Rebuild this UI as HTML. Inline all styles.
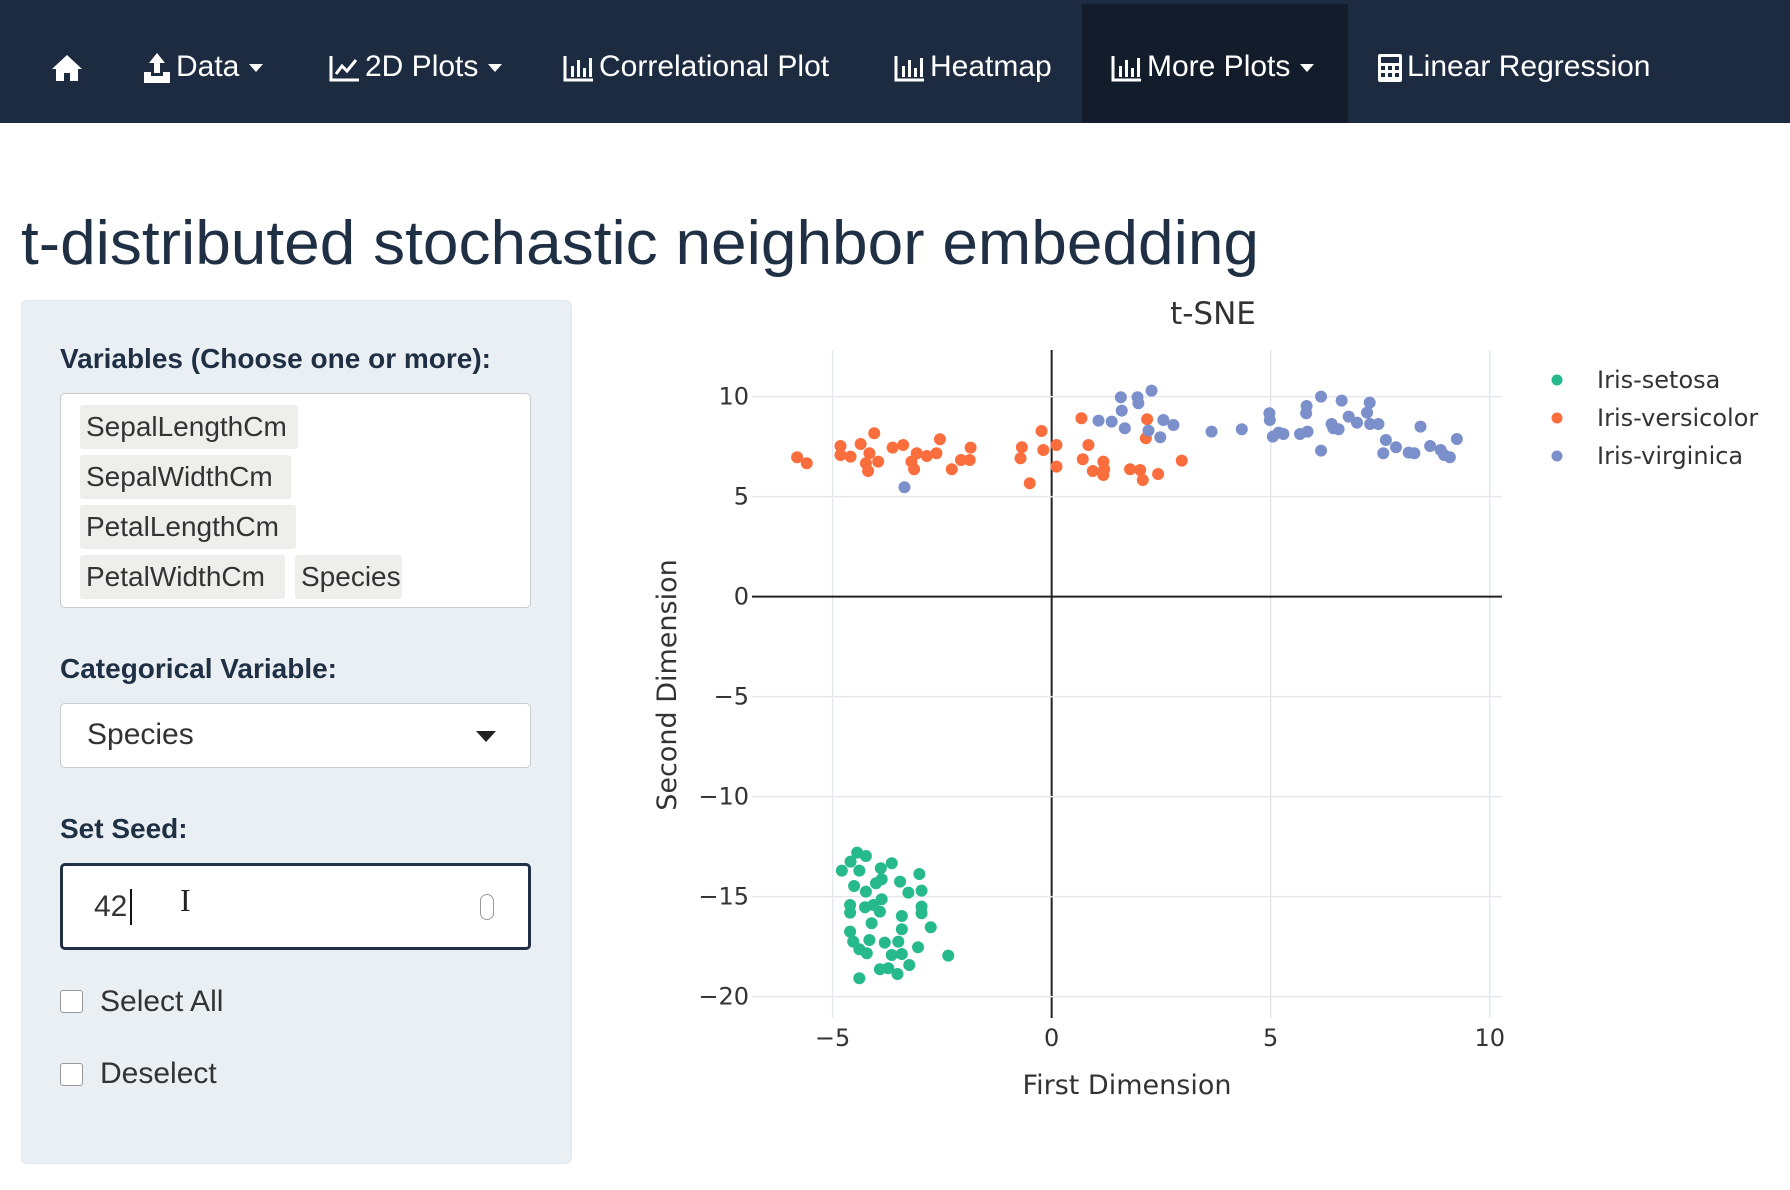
<!DOCTYPE html>
<html><head><meta charset="utf-8">
<style>
*{box-sizing:border-box;margin:0;padding:0}
body{width:1790px;height:1190px;background:#fff;font-family:"Liberation Sans",sans-serif;position:relative;overflow:hidden;color:#2c3e50}
.nav{position:absolute;left:0;top:0;width:1790px;height:123px;background:#1d2b41}
.nav-item{position:absolute;top:0;height:123px;color:#fff;font-size:30px;line-height:133px;white-space:nowrap}
.nav-item svg{vertical-align:middle;margin-right:4px}
.caret{display:inline-block;width:0;height:0;border-left:7px solid transparent;border-right:7px solid transparent;border-top:8px solid #fff;vertical-align:middle;margin-left:10px}
.active{background:#121c2b;top:4px;height:119px;line-height:125px}
h1{position:absolute;left:21px;top:208px;font-size:62px;font-weight:normal;color:#1f3045;white-space:nowrap;transform-origin:left top}
.panel{position:absolute;left:21px;top:300px;width:551px;height:864px;background:#eaeff3;border-radius:6px;border:1px solid #e3e7eb}
.lbl{position:absolute;left:60px;font-size:28px;font-weight:bold;color:#1f3045}
.box{position:absolute;left:60px;width:471px;background:#fff;border:1px solid #c8ccd2;border-radius:5px}
.chip{position:absolute;height:44px;background:#eeeeec;border-radius:3px;font-size:28px;line-height:44px;padding-left:6px;color:#333;white-space:nowrap}
.cb{position:absolute;left:60px;width:23px;height:23px;border:1.5px solid #999;border-radius:3px;background:#fff}
.cbl{position:absolute;left:100px;font-size:30px;color:#333}
</style></head><body>
<div class="nav">
  <div class="nav-item" style="left:50px"><svg width="34" height="30" viewBox="0 0 34 30"><path d="M17 2 L2 16 L6 16 L6 28 L14 28 L14 20 L20 20 L20 28 L28 28 L28 16 L32 16 Z" fill="#fff"/></svg></div>
  <div class="nav-item" style="left:142px"><svg width="30" height="32" viewBox="0 0 30 32"><path d="M15 1 L7 11 L12 11 L12 21 L18 21 L18 11 L23 11 Z M2 20 L9 20 L9 24 L21 24 L21 20 L28 20 L28 31 L2 31 Z" fill="#fff"/></svg>Data<span class="caret"></span></div>
  <div class="nav-item" style="left:329px"><svg width="32" height="28" viewBox="0 0 32 28"><path d="M2 2 V26 H30" stroke="#fff" stroke-width="3" fill="none"/><path d="M7 20 L13 12 L18 17 L27 6" stroke="#fff" stroke-width="3" fill="none"/></svg>2D Plots<span class="caret"></span></div>
  <div class="nav-item" style="left:563px"><svg width="32" height="28" viewBox="0 0 32 28"><path d="M2 2 V26 H30" stroke="#fff" stroke-width="3" fill="none"/><rect x="8" y="12" width="3" height="11" fill="#fff"/><rect x="14" y="6" width="3" height="17" fill="#fff"/><rect x="20" y="14" width="3" height="9" fill="#fff"/><rect x="26" y="4" width="3" height="19" fill="#fff"/></svg>Correlational Plot</div>
  <div class="nav-item" style="left:894px"><svg width="32" height="28" viewBox="0 0 32 28"><path d="M2 2 V26 H30" stroke="#fff" stroke-width="3" fill="none"/><rect x="8" y="12" width="3" height="11" fill="#fff"/><rect x="14" y="6" width="3" height="17" fill="#fff"/><rect x="20" y="14" width="3" height="9" fill="#fff"/><rect x="26" y="4" width="3" height="19" fill="#fff"/></svg>Heatmap</div>
  <div class="nav-item active" style="left:1082px;width:266px;padding-left:29px"><svg width="32" height="28" viewBox="0 0 32 28"><path d="M2 2 V26 H30" stroke="#fff" stroke-width="3" fill="none"/><rect x="8" y="12" width="3" height="11" fill="#fff"/><rect x="14" y="6" width="3" height="17" fill="#fff"/><rect x="20" y="14" width="3" height="9" fill="#fff"/><rect x="26" y="4" width="3" height="19" fill="#fff"/></svg>More Plots<span class="caret"></span></div>
  <div class="nav-item" style="left:1377px"><svg width="26" height="30" viewBox="0 0 26 30"><rect x="1" y="1" width="24" height="28" rx="2" fill="#fff"/><rect x="4" y="4" width="18" height="6" fill="#1d2b41"/><g fill="#1d2b41"><rect x="4" y="13" width="4" height="4"/><rect x="11" y="13" width="4" height="4"/><rect x="18" y="13" width="4" height="4"/><rect x="4" y="20" width="4" height="4"/><rect x="11" y="20" width="4" height="4"/><rect x="18" y="20" width="4" height="4"/></g></svg>Linear Regression</div>
</div>

<h1 id="title">t-distributed stochastic neighbor embedding</h1>

<div class="panel"></div>
<div class="lbl" style="top:343px">Variables (Choose one or more):</div>
<div class="box" style="top:393px;height:215px"></div>
<div class="chip" style="left:80px;top:405px;width:218px">SepalLengthCm</div>
<div class="chip" style="left:80px;top:455px;width:211px">SepalWidthCm</div>
<div class="chip" style="left:80px;top:505px;width:216px">PetalLengthCm</div>
<div class="chip" style="left:80px;top:555px;width:205px">PetalWidthCm</div>
<div class="chip" style="left:295px;top:555px;width:107px">Species</div>

<div class="lbl" style="top:653px">Categorical Variable:</div>
<div class="box" style="top:703px;height:65px">
  <span style="position:absolute;left:26px;top:14px;font-size:30px;color:#333">Species</span>
  <span style="position:absolute;left:415px;top:27px;border-left:10px solid transparent;border-right:10px solid transparent;border-top:11px solid #222"></span>
</div>

<div class="lbl" style="top:813px">Set Seed:</div>
<div class="box" style="top:863px;height:87px;border:3px solid #1f3045">
  <span style="position:absolute;left:31px;top:24px;font-size:30px;color:#333">42</span>
  <span style="position:absolute;left:67px;top:23px;width:2px;height:36px;background:#111"></span>
  <span style="position:absolute;left:117px;top:16px;font-size:32px;color:#222;font-family:'Liberation Serif',serif">I</span>
  <span style="position:absolute;left:417px;top:28px;width:14px;height:26px;border:1.5px solid #999;border-radius:7px"></span>
</div>

<div class="cb" style="top:990px"></div>
<div class="cbl" style="top:985px">Select All</div>
<div class="cb" style="top:1063px"></div>
<div class="cbl" style="top:1057px">Deselect</div>

<svg id="chart" width="1790" height="1190" style="position:absolute;left:0;top:0"></svg>

<script>
const setosaX=[-4.79,-4.59,-4.44,-4.24,-4.39,-4.51,-4.24,-3.90,-3.65,-4.01,-3.88,-3.46,-3.27,-3.02,-2.97,-4.60,-4.60,-4.26,-4.07,-3.88,-3.92,-4.11,-3.42,-2.97,-2.97,-3.42,-2.76,-4.60,-4.53,-4.16,-4.39,-4.22,-3.81,-3.50,-3.65,-3.42,-3.05,-2.36,-3.92,-3.73,-3.52,-3.25,-4.39];
const setosaY=[-13.70,-13.25,-12.80,-12.97,-13.70,-14.47,-14.75,-13.58,-13.33,-14.33,-14.13,-14.25,-14.80,-13.87,-14.70,-15.42,-15.80,-15.53,-15.42,-15.13,-15.75,-16.33,-15.97,-15.50,-15.83,-16.63,-16.53,-16.75,-17.25,-17.17,-17.63,-17.83,-17.30,-17.25,-17.92,-17.87,-17.53,-17.95,-18.63,-18.58,-18.87,-18.42,-19.08];
const versicolorX=[-5.81,-5.59,-4.82,-4.82,-4.59,-4.36,-4.16,-4.24,-4.19,-3.96,-4.05,-3.63,-3.39,-3.20,-3.14,-3.08,-2.85,-2.63,-2.55,-2.28,-2.07,-1.87,-1.85,-0.68,-0.71,-0.50,-0.23,-0.19,0.11,0.11,0.68,0.84,0.71,0.94,1.18,1.20,1.18,1.79,2.02,2.08,2.43,2.97,2.15,2.18];
const versicolorY=[6.97,6.67,7.53,7.08,7.00,7.63,7.17,6.67,6.28,6.75,8.17,7.45,7.58,6.75,6.37,7.17,7.03,7.17,7.87,6.37,6.83,6.83,7.45,7.47,6.92,5.67,8.28,7.33,7.58,6.50,8.92,7.58,6.87,6.28,6.75,6.37,6.08,6.37,6.33,5.83,6.13,6.80,7.92,8.87];
const virginicaX=[-3.36,1.58,1.96,1.98,2.28,1.60,1.07,1.37,1.67,2.21,2.55,2.78,2.48,3.65,4.34,4.97,4.98,5.05,5.18,5.29,5.67,5.84,5.82,5.81,6.15,6.15,6.39,6.43,6.55,6.62,6.78,6.97,7.26,7.20,7.27,7.46,7.63,7.86,7.57,8.15,8.28,8.42,8.64,8.88,8.96,9.09,9.25];
const virginicaY=[5.47,9.97,9.97,9.67,10.30,9.30,8.80,8.75,8.42,8.30,8.83,8.58,7.97,8.25,8.37,9.17,8.83,8.00,8.20,8.13,8.13,8.25,9.53,9.17,10.00,7.30,8.63,8.42,8.37,9.80,9.00,8.70,9.70,9.20,8.63,8.63,7.83,7.47,7.17,7.20,7.17,8.50,7.53,7.33,7.08,6.97,7.88];
const seriesNames=["Iris-setosa","Iris-versicolor","Iris-virginica"];
const xTicks=[-5,0,5,10];
const yTicks=[10,5,0,-5,-10,-15,-20];
const xTickLabels=["−5","0","5","10"];
const yTickLabels=["10","5","0","−5","−10","−15","−20"];

const NS="http://www.w3.org/2000/svg";
const svg=document.getElementById('chart');
const L=752,R=1502,T=350,B=1018;
const xMin=-6.84,xMax=10.28,yMin=-21.07,yMax=12.33;
const sx=v=>L+(v-xMin)/(xMax-xMin)*(R-L);
const sy=v=>B-(v-yMin)/(yMax-yMin)*(B-T);
function mk(tag,attrs,text){const e=document.createElementNS(NS,tag);for(const k in attrs)e.setAttribute(k,attrs[k]);if(text!==undefined)e.textContent=text;svg.appendChild(e);return e;}

xTicks.forEach((v,i)=>{
  const g=mk('line',{x1:sx(v),x2:sx(v),y1:T,y2:B,stroke:v===0?'#222':'#e6e8ef','stroke-width':v===0?2:1.5});
  
  
  const t=mk('text',{x:sx(v),y:1046,'text-anchor':'middle','font-size':24,fill:'#333','font-family':'DejaVu Sans, sans-serif'},xTickLabels[i]);
  
  
});
yTicks.forEach((v,i)=>{
  const g=mk('line',{x1:L,x2:R,y1:sy(v),y2:sy(v),stroke:v===0?'#222':'#e6e8ef','stroke-width':v===0?2:1.5});
  
  
  const t=mk('text',{x:749,y:sy(v)+8,'text-anchor':'end','font-size':24,fill:'#333','font-family':'DejaVu Sans, sans-serif'},yTickLabels[i]);
  
  
});
const colors=['#26b98b','#fa6e3e','#7b8fcb'];
const allX=[setosaX,versicolorX,virginicaX],allY=[setosaY,versicolorY,virginicaY];
allX.forEach((xs,s)=>{
  xs.forEach((xv,i)=>{
    const c=mk('circle',{cx:sx(xv),cy:sy(allY[s][i]),r:6,fill:colors[s]});
    
    
  });
});
const tt=mk('text',{x:1213,y:324,'text-anchor':'middle','font-size':31,fill:'#333','font-family':'DejaVu Sans, sans-serif'},'t-SNE');


const xt=mk('text',{x:1127,y:1094,'text-anchor':'middle','font-size':27,fill:'#333','font-family':'DejaVu Sans, sans-serif'},'First Dimension');


const yt=mk('text',{x:0,y:0,'text-anchor':'middle','font-size':27,fill:'#333','font-family':'DejaVu Sans, sans-serif',transform:'translate(676,685) rotate(-90)'},'Second Dimension');


seriesNames.forEach((n,i)=>{
  const y=380+i*38;
  const m=mk('circle',{cx:1557,cy:y,r:5.5,fill:colors[i]});
  
  
  const t=mk('text',{x:1597,y:y+8,'font-size':24,fill:'#333','font-family':'DejaVu Sans, sans-serif'},n);
  
  
});
const h=document.getElementById('title');
const w=h.getBoundingClientRect().width;
h.style.transform='scaleX('+(1238/w)+')';
</script>
</body></html>
